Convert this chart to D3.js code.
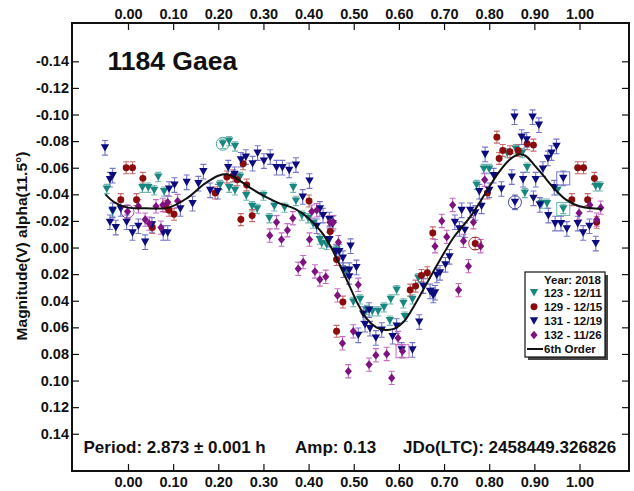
<!DOCTYPE html>
<html>
<head>
<meta charset="utf-8">
<script src="https://cdn.jsdelivr.net/npm/d3@7"></script>
<style>
  html, body { margin: 0; padding: 0; background: #fff; }
  svg { display: block; }
  text { font-family: "Liberation Sans", Arial, sans-serif; font-weight: bold; fill: #111; }
</style>
</head>
<body>
<svg id="chart" width="634" height="491"></svg>
<script>
// ---- Lightcurve data: [phase, reduced magnitude] ----
const seriesNames = ["123 - 12/11", "129 - 12/15", "131 - 12/19", "132 - 11/26"];
const seriesErr = [0.0035, 0.0045, 0.0055, 0.005];

const s123 = [
  [-0.047,-0.044],[-0.034,-0.027],[0.032,-0.045],[0.045,-0.045],[0.058,-0.043],[0.067,-0.053],
  [0.080,-0.042],[0.210,-0.078],[0.224,-0.080],[0.237,-0.076],[0.204,-0.047],[0.224,-0.045],
  [0.237,-0.043],[0.248,-0.053],[0.262,-0.039],[0.275,-0.031],[0.286,-0.029],[0.300,-0.039],
  [0.313,-0.022],[0.324,-0.031],[0.347,-0.030],[0.366,-0.045],[0.372,-0.035],[0.385,-0.024],
  [0.399,-0.022],[0.410,-0.018],[0.425,-0.006],[0.429,-0.003],[0.440,-0.002],[0.462,0.002],
  [0.484,0.018],[0.499,0.041],[0.514,0.039],[0.529,0.047],[0.541,0.048],[0.554,0.048],
  [0.567,0.045],[0.580,0.055],[0.582,0.039],[0.595,0.032],[0.610,0.042],[0.613,0.052],
  [0.630,0.039],[0.643,0.023],[0.772,-0.047],[0.788,-0.059],[0.800,-0.059],[0.840,-0.071],
  [0.859,-0.074],[0.873,-0.071],[0.884,-0.060],[0.879,-0.041],[0.916,-0.033],[0.928,-0.033],
  [0.951,-0.043],[0.964,-0.029],[1.036,-0.046],[1.045,-0.046]
];
const s129 = [
  [-0.016,-0.036],[-0.004,-0.060],[0.010,-0.060],[0.019,-0.036],[0.033,-0.052],[0.054,-0.015],
  [0.083,-0.031],[0.091,-0.028],[0.102,-0.025],[0.193,-0.041],[0.219,-0.053],[0.233,-0.054],
  [0.242,-0.051],[0.255,-0.063],[0.263,-0.047],[0.250,-0.021],[0.275,-0.024],[0.401,-0.035],
  [0.448,-0.012],[0.462,0.009],[0.476,0.041],[0.462,0.063],[0.625,0.032],[0.637,0.029],
  [0.650,0.021],[0.663,0.019],[0.675,-0.011],[0.769,-0.003],[0.796,-0.041],[0.817,-0.083],
  [0.830,-0.073],[0.822,-0.067],[0.846,-0.072],[0.864,-0.073],[0.884,-0.078],[0.898,-0.077],
  [0.983,-0.036],[0.996,-0.060],[1.009,-0.060],[1.018,-0.036],[1.033,-0.052],[1.038,-0.019]
];
const s131 = [
  [-0.051,-0.075],[-0.040,-0.051],[-0.034,-0.054],[-0.040,-0.019],[-0.027,-0.015],[-0.034,-0.028],
  [-0.016,-0.029],[-0.003,-0.019],[0.010,-0.011],[0.023,-0.016],[0.038,-0.004],[0.053,-0.017],
  [0.078,-0.011],[0.088,-0.011],[0.091,-0.044],[0.103,-0.047],[0.116,-0.029],[0.130,-0.049],
  [0.143,-0.033],[0.156,-0.048],[0.167,-0.057],[0.182,-0.043],[0.199,-0.042],[0.222,-0.060],
  [0.236,-0.055],[0.250,-0.066],[0.261,-0.068],[0.276,-0.063],[0.287,-0.071],[0.301,-0.065],
  [0.315,-0.068],[0.329,-0.060],[0.342,-0.060],[0.357,-0.058],[0.372,-0.062],[0.387,-0.038],
  [0.402,-0.050],[0.418,-0.016],[0.425,-0.029],[0.432,-0.024],[0.446,-0.021],[0.446,-0.006],
  [0.453,-0.018],[0.461,0.003],[0.468,0.003],[0.476,0.008],[0.477,0.017],[0.490,0.017],
  [0.490,0.022],[0.493,-0.001],[0.506,0.015],[0.510,0.066],[0.521,0.050],[0.525,0.058],
  [0.534,0.047],[0.536,0.061],[0.549,0.068],[0.562,0.062],[0.586,0.067],[0.595,0.059],
  [0.606,0.077],[0.630,0.077],[0.645,0.056],[0.654,0.029],[0.669,0.033],[0.676,0.036],
  [0.680,0.034],[0.684,0.021],[0.691,0.019],[0.703,0.013],[0.712,0.007],[0.724,-0.019],
  [0.734,-0.014],[0.739,-0.028],[0.746,-0.013],[0.758,-0.028],[0.769,-0.026],[0.778,-0.042],
  [0.783,-0.031],[0.791,-0.070],[0.800,-0.043],[0.810,-0.054],[0.827,-0.044],[0.850,-0.053],
  [0.856,-0.098],[0.857,-0.034],[0.872,-0.083],[0.875,-0.051],[0.883,-0.081],[0.896,-0.098],
  [0.898,-0.037],[0.903,-0.051],[0.910,-0.092],[0.912,-0.032],[0.919,-0.059],[0.930,-0.067],
  [0.931,-0.024],[0.938,-0.071],[0.944,-0.045],[0.946,-0.018],[0.949,-0.076],[0.959,-0.018],
  [0.964,-0.052],[0.972,-0.014],[0.996,-0.018],[1.008,-0.011],[1.022,-0.016],[1.036,-0.003]
];
const s132 = [
  [-0.001,-0.027],[0.023,-0.031],[0.038,-0.021],[0.047,-0.018],[0.062,-0.031],[0.073,-0.015],
  [0.077,-0.032],[0.088,-0.034],[0.110,-0.035],[0.314,-0.009],[0.329,-0.019],[0.340,-0.006],
  [0.353,-0.013],[0.365,-0.022],[0.377,0.016],[0.388,0.011],[0.402,-0.006],[0.407,-0.027],
  [0.418,-0.028],[0.414,0.018],[0.425,0.024],[0.438,0.022],[0.447,-0.019],[0.455,-0.019],
  [0.464,0.036],[0.466,-0.004],[0.475,0.072],[0.488,0.093],[0.499,0.063],[0.510,0.028],
  [0.534,0.088],[0.549,0.081],[0.573,0.080],[0.584,0.098],[0.598,0.068],[0.608,0.078],
  [0.680,-0.001],[0.695,-0.020],[0.706,-0.008],[0.719,-0.032],[0.732,0.032],[0.743,-0.005],
  [0.754,0.014],[0.765,-0.019],[0.781,-0.001],[0.790,-0.051],[0.999,-0.026],[1.023,-0.032],
  [1.038,-0.021],[1.047,-0.030]
];

// Flagged observations: [series index, phase, magnitude]
const ringedPoints = [[0,0.210,-0.078],[1,0.769,-0.003],[2,0.857,-0.034],[3,-0.001,-0.027]];
const boxedPoints  = [[0,0.964,-0.029],[2,0.964,-0.052],[3,0.608,0.078]];

// 6th-order Fourier fit
const fitCurve = [
  [-0.05,-0.040],[-0.03,-0.034],[0.00,-0.030],[0.04,-0.0295],[0.09,-0.030],[0.13,-0.037],
  [0.17,-0.048],[0.20,-0.054],[0.22,-0.055],[0.235,-0.053],[0.27,-0.045],[0.30,-0.039],
  [0.33,-0.034],[0.37,-0.029],[0.40,-0.022],[0.43,-0.011],[0.45,0.000],[0.48,0.021],
  [0.51,0.043],[0.53,0.054],[0.55,0.060],[0.57,0.062],[0.59,0.061],[0.61,0.056],
  [0.63,0.046],[0.66,0.028],[0.69,0.010],[0.72,-0.007],[0.76,-0.024],[0.79,-0.040],
  [0.82,-0.056],[0.845,-0.066],[0.865,-0.070],[0.88,-0.069],[0.90,-0.062],[0.92,-0.054],
  [0.945,-0.044],[0.97,-0.036],[1.00,-0.031],[1.05,-0.029]
];

const xTicks = [0.00,0.10,0.20,0.30,0.40,0.50,0.60,0.70,0.80,0.90,1.00];
const yTicks = [-0.14,-0.12,-0.10,-0.08,-0.06,-0.04,-0.02,0.00,0.02,0.04,0.06,0.08,0.10,0.12,0.14];

// ---- Appearance ----
const fills   = ["#17877f", "#8a0c0c", "#0c0c7e", "#7e127e"];
const errCols = ["#6db5af", "#c96a6a", "#7475c9", "#c46cc4"];
const shapes  = ["tri", "circle", "tri", "diamond"];

const svg = d3.select("#chart");
const L = 72, T = 23, R = 629, B = 471;

const x = d3.scaleLinear().domain([-0.124, 1.1096]).range([L, R]);
const y = d3.scaleLinear().domain([-0.1688, 0.1680]).range([T, B]);

function markerPath(shape) {
  if (shape === "tri") return "M-4.2,-3.6L4.2,-3.6L0,3.8Z";
  if (shape === "diamond") return "M0,-4.3L3.6,0L0,4.3L-3.6,0Z";
  return d3.symbol(d3.symbolCircle, 38)();
}

function styleAxis(g, size) {
  g.attr("font-family", null).attr("font-size", null);
  g.select(".domain").remove();
  g.selectAll(".tick line").attr("stroke", "#111").attr("stroke-width", 1.2);
  g.selectAll("text").attr("font-size", size).attr("fill", "#111");
}

const fmt = d => d.toFixed(2);

svg.append("g").attr("transform", `translate(0,${T})`)
  .call(d3.axisTop(x).tickValues(xTicks).tickSize(-7).tickPadding(4.5).tickFormat(fmt))
  .call(g => styleAxis(g, 14.5));
svg.append("g").attr("transform", `translate(0,${B})`)
  .call(d3.axisBottom(x).tickValues(xTicks).tickSize(-7).tickPadding(6).tickFormat(fmt))
  .call(g => styleAxis(g, 14.5));
svg.append("g").attr("transform", `translate(${L},0)`)
  .call(d3.axisLeft(y).tickValues(yTicks).tickSize(-7).tickPadding(3).tickFormat(fmt))
  .call(g => styleAxis(g, 14.5));
svg.append("g").attr("transform", `translate(${R},0)`)
  .call(d3.axisRight(y).tickValues(yTicks).tickSize(-7).tickFormat(""))
  .call(g => styleAxis(g, 14.5));

// plot frame
svg.append("rect").attr("x", L).attr("y", T).attr("width", R - L).attr("height", B - T)
  .attr("fill", "none").attr("stroke", "#111").attr("stroke-width", 2);

const allSeries = [s123, s129, s131, s132];
const plot = svg.append("g");

// error bars
allSeries.forEach((data, si) => {
  const e = seriesErr[si];
  const g = plot.append("g").attr("stroke", errCols[si]).attr("stroke-width", 1.1).attr("fill", "none");
  data.forEach(([p, m]) => {
    const cx = x(p), y1 = y(m - e), y2 = y(m + e);
    g.append("path").attr("d", `M${cx},${y1}L${cx},${y2}M${cx - 3},${y1}L${cx + 3},${y1}M${cx - 3},${y2}L${cx + 3},${y2}`);
  });
});

// markers
allSeries.forEach((data, si) => {
  plot.append("g").selectAll("path").data(data).join("path")
    .attr("d", markerPath(shapes[si]))
    .attr("transform", d => `translate(${x(d[0])},${y(d[1])})`)
    .attr("fill", fills[si]);
});

// flagged observations
plot.append("g").selectAll("circle").data(ringedPoints).join("circle")
  .attr("cx", d => x(d[1])).attr("cy", d => y(d[2])).attr("r", 6.5)
  .attr("fill", "none").attr("stroke", d => fills[d[0]]).attr("stroke-width", 1).attr("opacity", 0.75);
plot.append("g").selectAll("rect").data(boxedPoints).join("rect")
  .attr("x", d => x(d[1]) - 6.5).attr("y", d => y(d[2]) - 6.5).attr("width", 13).attr("height", 13)
  .attr("fill", "none").attr("stroke", d => errCols[d[0]]).attr("stroke-width", 1);

// fit curve
svg.append("path").datum(fitCurve)
  .attr("d", d3.line().x(d => x(d[0])).y(d => y(d[1])).curve(d3.curveCatmullRom.alpha(0.5)))
  .attr("fill", "none").attr("stroke", "#111").attr("stroke-width", 2);

// titles and annotations
svg.append("text").attr("x", 107.5).attr("y", 70).attr("font-size", 26.5).text("1184 Gaea");
svg.append("text").attr("transform", "translate(26.5,246) rotate(-90)")
  .attr("text-anchor", "middle").attr("font-size", 15.5).text("Magnitude(V) alpha(11.5°)");
svg.append("text").attr("x", 83.5).attr("y", 453).attr("font-size", 17).text("Period: 2.873 ± 0.001 h");
svg.append("text").attr("x", 295).attr("y", 453).attr("font-size", 17).text("Amp: 0.13");
svg.append("text").attr("x", 403).attr("y", 453).attr("font-size", 17).text("JDo(LTC): 2458449.326826");

// legend
const lg = svg.append("g");
lg.append("rect").attr("x", 528).attr("y", 275).attr("width", 80).attr("height", 85).attr("fill", "#444");
lg.append("rect").attr("x", 525).attr("y", 272).attr("width", 80).attr("height", 85)
  .attr("fill", "#fff").attr("stroke", "#111").attr("stroke-width", 1.2);
lg.append("text").attr("x", 544).attr("y", 283.5).attr("font-size", 11.5).text("Year: 2018");
seriesNames.forEach((name, i) => {
  const cy = 292.7 + i * 14.1;
  lg.append("path").attr("d", markerPath(shapes[i])).attr("transform", `translate(534,${cy})`).attr("fill", fills[i]);
  lg.append("text").attr("x", 544).attr("y", cy + 4).attr("font-size", 11.5).text(name);
});
lg.append("line").attr("x1", 527).attr("x2", 543).attr("y1", 349).attr("y2", 349)
  .attr("stroke", "#111").attr("stroke-width", 2);
lg.append("text").attr("x", 544).attr("y", 353).attr("font-size", 11.5).text("6th Order");
</script>
</body>
</html>
